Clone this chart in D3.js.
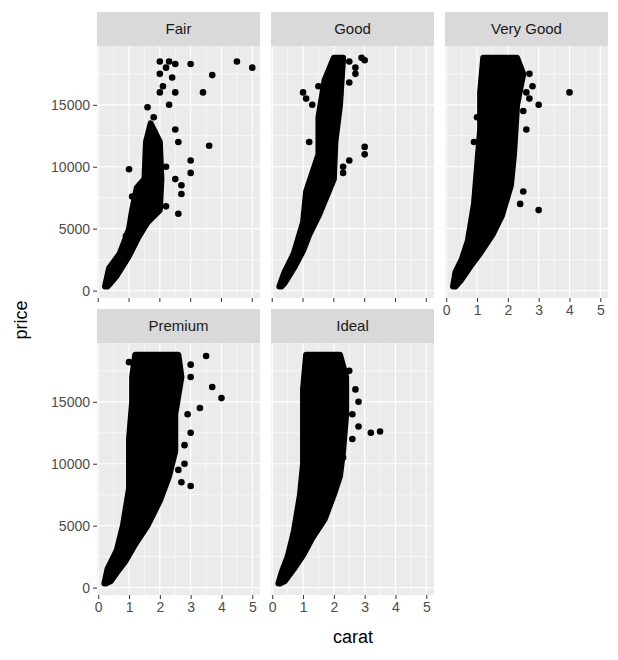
<!DOCTYPE html>
<html><head><meta charset="utf-8">
<script src="https://cdn.jsdelivr.net/npm/d3@7"></script>
<style>body{margin:0;background:#fff}text{font-family:"Liberation Sans",Arial,sans-serif}</style>
</head><body><svg id="c" width="618" height="660"></svg>
<script>
// facets (cut)
var cuts = ["Fair", "Good", "Very Good", "Premium", "Ideal"];
var xTicks = [0, 1, 2, 3, 4, 5];
var yTicks = [0, 5000, 10000, 15000];

// dense core of each panel as an outline (carat, price)
var coreFair = [[0.22,330],[0.35,1800],[0.7,3000],[0.9,4300],[1.0,5000],[1.1,6500],[1.25,8300],[1.5,9000],[1.55,12000],[1.7,13500],[2.0,12000],[2.05,9000],[2.0,6500],[1.6,5500],[1.3,4300],[1.0,2800],[0.8,2000],[0.6,1200],[0.4,600],[0.3,330]];
var coreGood = [[0.23,330],[0.4,1500],[0.7,3000],[1.0,5500],[1.1,8000],[1.5,11000],[1.5,14000],[1.7,17000],[2.0,18800],[2.3,18800],[2.2,15000],[2.05,12000],[2.0,9000],[1.5,6000],[1.2,4500],[1.0,3200],[0.7,1800],[0.4,600],[0.3,330]];
var coreVeryGood = [[0.22,330],[0.3,1500],[0.5,2500],[0.7,4000],[0.9,7000],[1.0,10000],[1.1,13000],[1.1,16000],[1.2,18800],[2.3,18800],[2.5,17500],[2.3,15000],[2.2,11000],[2.1,8500],[1.8,6000],[1.5,4500],[1.1,3000],[0.8,2000],[0.5,900],[0.3,330]];
var corePremium = [[0.2,330],[0.3,1500],[0.6,3000],[0.8,5000],[1.0,8000],[1.0,12000],[1.1,15000],[1.1,17000],[1.2,18800],[2.6,18800],[2.7,17000],[2.5,14000],[2.5,11000],[2.3,9000],[2.0,7000],[1.6,5000],[1.2,3500],[0.9,2200],[0.6,1200],[0.4,500],[0.25,330]];
var coreIdeal = [[0.2,330],[0.3,1200],[0.5,2500],[0.7,4500],[0.9,7500],[1.0,10000],[1.0,13000],[1.0,16000],[1.1,18800],[2.2,18800],[2.4,17000],[2.4,14000],[2.3,11000],[2.2,9000],[2.0,7500],[1.7,5500],[1.3,4000],[1.0,2600],[0.7,1500],[0.4,500],[0.25,330]];

// scattered points outside the core
var ptsFair = [[2.0,18500],[2.0,17500],[2.0,16000],[2.2,18000],[2.3,18500],[2.5,18300],[3.0,18300],[3.7,17400],[4.5,18500],[5.0,18000],[3.4,16000],[3.6,11700],[3.0,10500],[3.0,9500],[2.3,15000],[2.5,13000],[2.6,12000],[2.7,7800],[2.6,6200],[2.7,8500],[2.2,6800],[2.5,9000],[1.6,14800],[1.8,14000],[2.1,16500],[2.4,17200],[2.5,16000],[1.9,11000],[0.9,4400],[2.2,10000],[1.1,7600],[1.0,9800]];
var ptsGood = [[1.0,16000],[1.1,15500],[1.3,15000],[1.5,16500],[2.5,18500],[2.7,18000],[2.9,18800],[3.0,18600],[2.2,15800],[2.3,10000],[3.0,11600],[3.0,11000],[2.5,10500],[2.3,9500],[1.2,12000],[2.5,16800],[2.7,17500]];
var ptsVeryGood = [[2.6,16000],[2.7,15500],[2.5,14500],[3.0,15000],[2.8,16500],[4.0,16000],[3.0,6500],[2.5,8000],[2.4,7000],[2.6,13000],[2.7,17500],[1.0,14000],[0.9,12000]];
var ptsPremium = [[1.0,18200],[3.0,18000],[3.5,18700],[3.0,17000],[3.7,16200],[4.0,15300],[3.3,14500],[3.0,12500],[2.8,10000],[3.0,8200],[2.7,8500],[2.9,14000],[2.6,9500],[2.8,11500]];
var ptsIdeal = [[2.5,17500],[2.7,16000],[2.8,15000],[2.6,14000],[3.2,12500],[3.5,12600],[2.6,12000],[2.3,10500],[2.8,13000]];

var cores = [coreFair, coreGood, coreVeryGood, corePremium, coreIdeal];
var points = [ptsFair, ptsGood, ptsVeryGood, ptsPremium, ptsIdeal];

var svg = d3.select("#c");
var pw = 163, ph = 252, stripH = 34;
var colX = [97, 271, 445], rowY = [46, 343];

var x = d3.scaleLinear().domain([-0.04, 5.25]).range([0, pw]);
var y = d3.scaleLinear().domain([-599, 19748]).range([ph, 0]);
var line = d3.line().x(d => x(d[0])).y(d => y(d[1])).curve(d3.curveLinearClosed);

cuts.forEach(function(cut, i) {
    var c = i % 3, r = Math.floor(i / 3);
    var g = svg.append("g").attr("transform", "translate(" + colX[c] + "," + rowY[r] + ")");
    // strip
    g.append("rect").attr("y", -stripH).attr("width", pw).attr("height", stripH).attr("fill", "#D9D9D9");
    g.append("text").attr("x", pw / 2).attr("y", -stripH / 2 + 5).attr("text-anchor", "middle")
        .attr("font-size", 15).attr("fill", "#1A1A1A").text(cut);
    // panel + grid
    g.append("rect").attr("width", pw).attr("height", ph).attr("fill", "#EBEBEB");
    d3.range(0.5, 5.5, 1).forEach(v => g.append("line").attr("x1", x(v)).attr("x2", x(v)).attr("y2", ph).attr("stroke", "#fff").attr("stroke-width", 0.6));
    [2500, 7500, 12500, 17500].forEach(v => g.append("line").attr("y1", y(v)).attr("y2", y(v)).attr("x2", pw).attr("stroke", "#fff").attr("stroke-width", 0.6));
    xTicks.forEach(v => g.append("line").attr("x1", x(v)).attr("x2", x(v)).attr("y2", ph).attr("stroke", "#fff").attr("stroke-width", 1.2));
    yTicks.forEach(v => g.append("line").attr("y1", y(v)).attr("y2", y(v)).attr("x2", pw).attr("stroke", "#fff").attr("stroke-width", 1.2));
    // data
    g.append("path").datum(cores[i]).attr("d", line).attr("fill", "#000").attr("stroke", "#000")
        .attr("stroke-width", 6).attr("stroke-linejoin", "round");
    g.selectAll("circle").data(points[i]).join("circle")
        .attr("cx", d => x(d[0])).attr("cy", d => y(d[1])).attr("r", 3.3).attr("fill", "#000");
    // y axis on left column
    if (c === 0) {
        var ya = g.append("g").call(d3.axisLeft(y).tickValues(yTicks).tickFormat(d3.format("d")).tickSize(4).tickPadding(3));
        ya.select(".domain").remove();
        ya.selectAll("line").attr("stroke", "#333");
        ya.selectAll("text").attr("font-size", 14).attr("fill", "#4D4D4D");
    }
    // x axis where no panel below
    if (r === 1 || c === 2) {
        var xa = g.append("g").attr("transform", "translate(0," + ph + ")")
            .call(d3.axisBottom(x).tickValues(xTicks).tickFormat(d3.format("d")).tickSize(4).tickPadding(3));
        xa.select(".domain").remove();
        xa.selectAll("line").attr("stroke", "#333");
        xa.selectAll("text").attr("font-size", 14).attr("fill", "#4D4D4D");
    } else {
        g.selectAll(".xt").data(xTicks).join("line").attr("x1", d => x(d)).attr("x2", d => x(d))
            .attr("y1", ph).attr("y2", ph + 4).attr("stroke", "#333");
    }
});

svg.append("text").attr("x", 353).attr("y", 643).attr("text-anchor", "middle").attr("font-size", 18).text("carat");
svg.append("text").attr("transform", "translate(27,320) rotate(-90)").attr("text-anchor", "middle").attr("font-size", 18).text("price");
</script></body></html>
